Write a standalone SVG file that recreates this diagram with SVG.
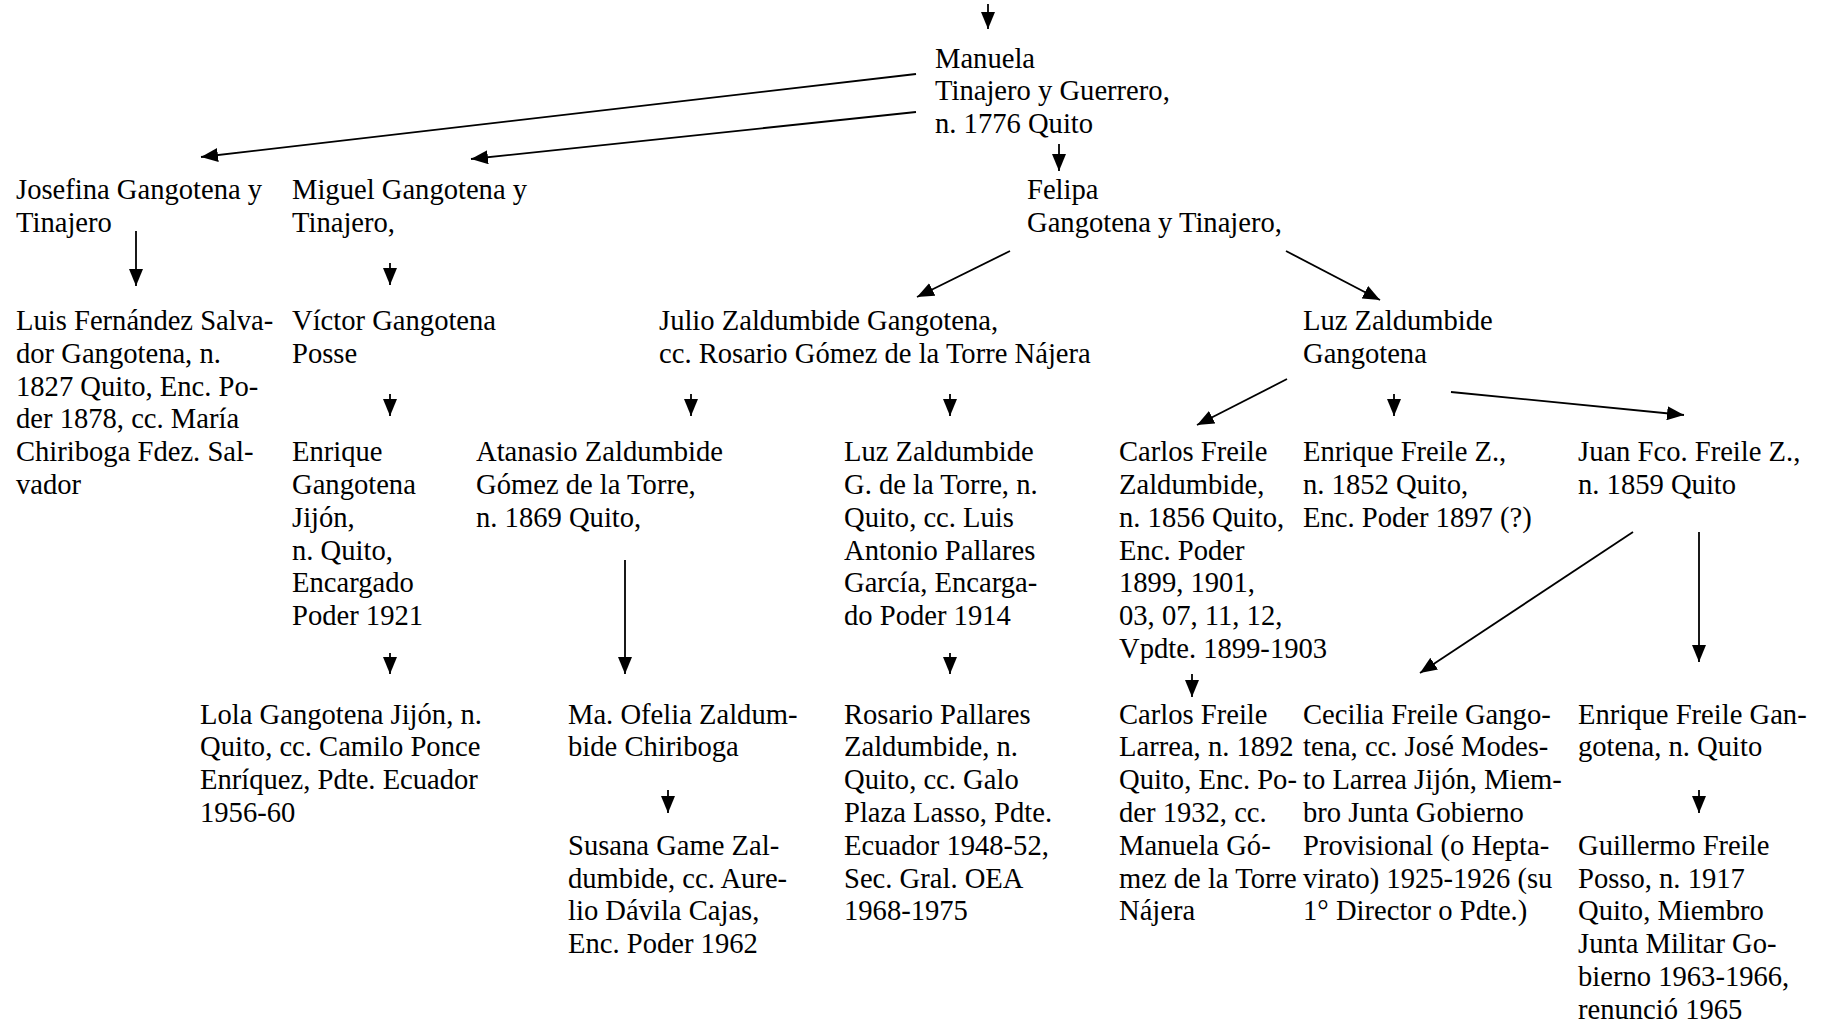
<svg xmlns="http://www.w3.org/2000/svg" width="1822" height="1023" viewBox="0 0 1822 1023">
<style>
text{font-family:"Liberation Serif","Times New Roman",serif;font-size:28.6px;fill:#000}
.c line{stroke:#000;stroke-width:1.8;fill:none;marker-end:url(#ah)}
</style>
<defs>
<marker id="ah" markerUnits="userSpaceOnUse" viewBox="0 0 17 14" refX="17" refY="7" markerWidth="17" markerHeight="14" orient="auto">
<path d="M0,0 L17,7 L0,14 z" fill="#000"/>
</marker>
</defs>
<rect width="1822" height="1023" fill="#fff"/>
<g class="c" id="connectors">
<line x1="988" y1="4" x2="988" y2="29"/>
<line x1="916" y1="74" x2="201" y2="157"/>
<line x1="916" y1="112" x2="471" y2="159"/>
<line x1="1059" y1="144" x2="1059" y2="171"/>
<line x1="136" y1="231" x2="136" y2="286"/>
<line x1="390" y1="263" x2="390" y2="285"/>
<line x1="1010" y1="251" x2="917" y2="297"/>
<line x1="1286" y1="251" x2="1380" y2="300"/>
<line x1="390" y1="394" x2="390" y2="416"/>
<line x1="691" y1="394" x2="691" y2="416"/>
<line x1="950" y1="394" x2="950" y2="416"/>
<line x1="1287" y1="379" x2="1197" y2="425"/>
<line x1="1394" y1="394" x2="1394" y2="416"/>
<line x1="1451" y1="392" x2="1684" y2="415"/>
<line x1="390" y1="653" x2="390" y2="674"/>
<line x1="625" y1="560" x2="625" y2="674"/>
<line x1="950" y1="653" x2="950" y2="674"/>
<line x1="1192" y1="674" x2="1192" y2="697"/>
<line x1="1633" y1="532" x2="1420" y2="673"/>
<line x1="1699" y1="532" x2="1699" y2="662"/>
<line x1="668" y1="790" x2="668" y2="813"/>
<line x1="1699" y1="790" x2="1699" y2="813"/>
</g>
<g id="manuela"><text x="935" y="67.5"><tspan x="935">Manuela</tspan><tspan x="935" dy="32.8">Tinajero y Guerrero,</tspan><tspan x="935" dy="32.8">n. 1776 Quito</tspan></text></g>
<g id="josefina"><text x="16" y="198.7"><tspan x="16">Josefina Gangotena y</tspan><tspan x="16" dy="32.8">Tinajero</tspan></text></g>
<g id="miguel"><text x="292" y="198.7"><tspan x="292">Miguel Gangotena y</tspan><tspan x="292" dy="32.8">Tinajero,</tspan></text></g>
<g id="felipa"><text x="1027" y="198.7"><tspan x="1027">Felipa</tspan><tspan x="1027" dy="32.8">Gangotena y Tinajero,</tspan></text></g>
<g id="luis"><text x="16" y="329.9"><tspan x="16">Luis Fernández Salva-</tspan><tspan x="16" dy="32.8">dor Gangotena, n.</tspan><tspan x="16" dy="32.8">1827 Quito, Enc. Po-</tspan><tspan x="16" dy="32.8">der 1878, cc. María</tspan><tspan x="16" dy="32.8">Chiriboga Fdez. Sal-</tspan><tspan x="16" dy="32.8">vador</tspan></text></g>
<g id="victor"><text x="292" y="329.9"><tspan x="292">Víctor Gangotena</tspan><tspan x="292" dy="32.8">Posse</tspan></text></g>
<g id="julio"><text x="659" y="329.9"><tspan x="659">Julio Zaldumbide Gangotena,</tspan><tspan x="659" dy="32.8">cc. Rosario Gómez de la Torre Nájera</tspan></text></g>
<g id="luz"><text x="1303" y="329.9"><tspan x="1303">Luz Zaldumbide</tspan><tspan x="1303" dy="32.8">Gangotena</tspan></text></g>
<g id="enrique-gangotena"><text x="292" y="461.1"><tspan x="292">Enrique</tspan><tspan x="292" dy="32.8">Gangotena</tspan><tspan x="292" dy="32.8">Jijón,</tspan><tspan x="292" dy="32.8">n. Quito,</tspan><tspan x="292" dy="32.8">Encargado</tspan><tspan x="292" dy="32.8">Poder 1921</tspan></text></g>
<g id="atanasio"><text x="476" y="461.1"><tspan x="476">Atanasio Zaldumbide</tspan><tspan x="476" dy="32.8">Gómez de la Torre,</tspan><tspan x="476" dy="32.8">n. 1869 Quito,</tspan></text></g>
<g id="luz-torre"><text x="844" y="461.1"><tspan x="844">Luz Zaldumbide</tspan><tspan x="844" dy="32.8">G. de la Torre, n.</tspan><tspan x="844" dy="32.8">Quito, cc. Luis</tspan><tspan x="844" dy="32.8">Antonio Pallares</tspan><tspan x="844" dy="32.8">García, Encarga-</tspan><tspan x="844" dy="32.8">do Poder 1914</tspan></text></g>
<g id="carlos-zaldumbide"><text x="1119" y="461.1"><tspan x="1119">Carlos Freile</tspan><tspan x="1119" dy="32.8">Zaldumbide,</tspan><tspan x="1119" dy="32.8">n. 1856 Quito,</tspan><tspan x="1119" dy="32.8">Enc. Poder</tspan><tspan x="1119" dy="32.8">1899, 1901,</tspan><tspan x="1119" dy="32.8">03, 07, 11, 12,</tspan><tspan x="1119" dy="32.8">Vpdte. 1899-1903</tspan></text></g>
<g id="enrique-freile-z"><text x="1303" y="461.1"><tspan x="1303">Enrique Freile Z.,</tspan><tspan x="1303" dy="32.8">n. 1852 Quito,</tspan><tspan x="1303" dy="32.8">Enc. Poder 1897 (?)</tspan></text></g>
<g id="juan"><text x="1578" y="461.1"><tspan x="1578">Juan Fco. Freile Z.,</tspan><tspan x="1578" dy="32.8">n. 1859 Quito</tspan></text></g>
<g id="lola"><text x="200" y="723.5"><tspan x="200">Lola Gangotena Jijón, n.</tspan><tspan x="200" dy="32.8">Quito, cc. Camilo Ponce</tspan><tspan x="200" dy="32.8">Enríquez, Pdte. Ecuador</tspan><tspan x="200" dy="32.8">1956-60</tspan></text></g>
<g id="ofelia"><text x="568" y="723.5"><tspan x="568">Ma. Ofelia Zaldum-</tspan><tspan x="568" dy="32.8">bide Chiriboga</tspan></text></g>
<g id="rosario"><text x="844" y="723.5"><tspan x="844">Rosario Pallares</tspan><tspan x="844" dy="32.8">Zaldumbide, n.</tspan><tspan x="844" dy="32.8">Quito, cc. Galo</tspan><tspan x="844" dy="32.8">Plaza Lasso, Pdte.</tspan><tspan x="844" dy="32.8">Ecuador 1948-52,</tspan><tspan x="844" dy="32.8">Sec. Gral. OEA</tspan><tspan x="844" dy="32.8">1968-1975</tspan></text></g>
<g id="carlos-larrea"><text x="1119" y="723.5"><tspan x="1119">Carlos Freile</tspan><tspan x="1119" dy="32.8">Larrea, n. 1892</tspan><tspan x="1119" dy="32.8">Quito, Enc. Po-</tspan><tspan x="1119" dy="32.8">der 1932, cc.</tspan><tspan x="1119" dy="32.8">Manuela Gó-</tspan><tspan x="1119" dy="32.8">mez de la Torre</tspan><tspan x="1119" dy="32.8">Nájera</tspan></text></g>
<g id="cecilia"><text x="1303" y="723.5"><tspan x="1303">Cecilia Freile Gango-</tspan><tspan x="1303" dy="32.8">tena, cc. José Modes-</tspan><tspan x="1303" dy="32.8">to Larrea Jijón, Miem-</tspan><tspan x="1303" dy="32.8">bro Junta Gobierno</tspan><tspan x="1303" dy="32.8">Provisional (o Hepta-</tspan><tspan x="1303" dy="32.8">virato) 1925-1926 (su</tspan><tspan x="1303" dy="32.8">1° Director o Pdte.)</tspan></text></g>
<g id="enrique-freile-gangotena"><text x="1578" y="723.5"><tspan x="1578">Enrique Freile Gan-</tspan><tspan x="1578" dy="32.8">gotena, n. Quito</tspan></text></g>
<g id="susana"><text x="568" y="854.7"><tspan x="568">Susana Game Zal-</tspan><tspan x="568" dy="32.8">dumbide, cc. Aure-</tspan><tspan x="568" dy="32.8">lio Dávila Cajas,</tspan><tspan x="568" dy="32.8">Enc. Poder 1962</tspan></text></g>
<g id="guillermo"><text x="1578" y="854.7"><tspan x="1578">Guillermo Freile</tspan><tspan x="1578" dy="32.8">Posso, n. 1917</tspan><tspan x="1578" dy="32.8">Quito, Miembro</tspan><tspan x="1578" dy="32.8">Junta Militar Go-</tspan><tspan x="1578" dy="32.8">bierno 1963-1966,</tspan><tspan x="1578" dy="32.8">renunció 1965</tspan></text></g>
</svg>
